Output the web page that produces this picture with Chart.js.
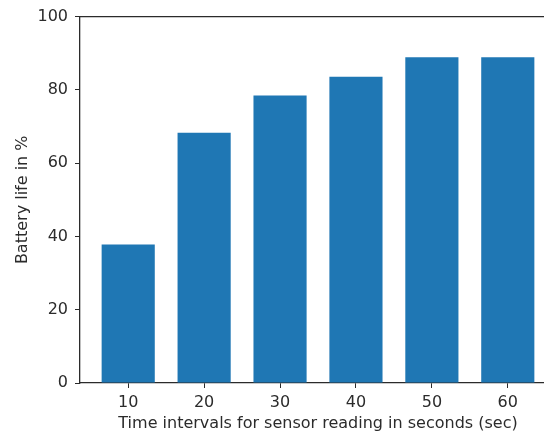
<!DOCTYPE html>
<html>
<head>
<meta charset="utf-8">
<script src="https://cdn.jsdelivr.net/npm/chart.js@4"></script>
<style>
  html, body { margin: 0; padding: 0; background: #fff; overflow: hidden; }
  #wrap { width: 580px; height: 433px; position: relative; }
</style>
</head>
<body>
<div id="wrap"><canvas id="c"></canvas></div>
<script>
// Sensor reading interval (seconds) and the resulting battery life (%)
const intervals = [10, 20, 30, 40, 50, 60];
const batteryLife = [37.8, 68.3, 78.5, 83.6, 88.9, 88.9];
const yTicks = [0, 20, 40, 60, 80, 100];

const xTitle = 'Time intervals for sensor reading in seconds (sec)';
const yTitle = 'Battery life in %';

const inkColor = '#2b2b2b';
const font = { family: 'DejaVu Sans', size: 16 };

// top spine of the plot area
const framePlugin = {
  id: 'frame',
  afterDraw(chart) {
    const { ctx, chartArea: a } = chart;
    ctx.save();
    ctx.strokeStyle = inkColor;
    ctx.lineWidth = 1.3;
    ctx.beginPath();
    ctx.moveTo(a.left, a.top);
    ctx.lineTo(a.right, a.top);
    ctx.stroke();
    ctx.restore();
  }
};

new Chart(document.getElementById('c'), {
  type: 'bar',
  data: {
    datasets: [{
      data: intervals.map((x, i) => ({ x: x, y: batteryLife[i] })),
      backgroundColor: '#1f77b4',
      borderWidth: 0,
      barPercentage: 0.7,
      categoryPercentage: 1.0
    }]
  },
  options: {
    responsive: true,
    maintainAspectRatio: false,
    animation: false,
    layout: { padding: { top: 16, right: 24, bottom: 0, left: 0 } },
    plugins: { legend: { display: false }, tooltip: { enabled: false } },
    scales: {
      x: {
        type: 'linear',
        min: 3.65,
        max: 66.35,
        offset: false,
        afterBuildTicks(scale) { scale.ticks = intervals.map(v => ({ value: v })); },
        afterFit(scale) { scale.height = 50; },
        grid: { display: true, offset: false, drawOnChartArea: false, drawTicks: true, tickLength: 5, color: inkColor, lineWidth: 1 },
        border: { display: true, color: inkColor, width: 1.3 },
        ticks: { color: inkColor, font: font, padding: 5, maxRotation: 0 },
        title: { display: true, text: xTitle, color: inkColor, font: font, padding: { top: 0, bottom: 0 } }
      },
      y: {
        min: 0,
        max: 100,
        afterBuildTicks(scale) { scale.ticks = yTicks.map(v => ({ value: v })); },
        afterFit(scale) { scale.width = 80; },
        grid: { display: true, drawOnChartArea: false, drawTicks: true, tickLength: 5, color: inkColor, lineWidth: 1 },
        border: { display: true, color: inkColor, width: 1.3 },
        ticks: { color: inkColor, font: font, padding: 7 },
        title: { display: true, text: yTitle, color: inkColor, font: font, padding: { top: 13, bottom: 0 } }
      }
    }
  },
  plugins: [framePlugin]
});
</script>
</body>
</html>
